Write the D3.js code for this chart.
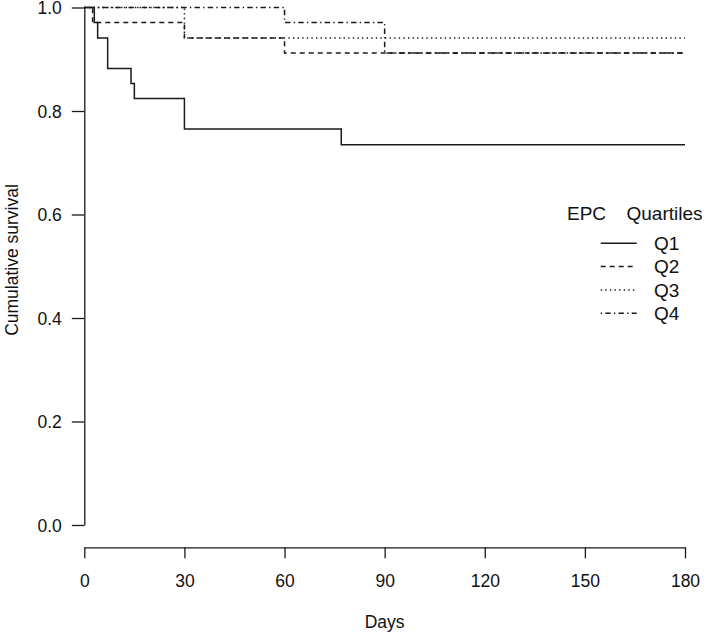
<!DOCTYPE html>
<html>
<head>
<meta charset="utf-8">
<script src="https://cdn.jsdelivr.net/npm/d3@7"></script>
<style>
  html, body { margin: 0; padding: 0; background: #fff; }
  svg { display: block; }
  text { font-family: "Liberation Sans", Arial, Helvetica, sans-serif; fill: #111; }
</style>
</head>
<body>
<svg id="chart" width="706" height="635"></svg>
<script>
// ---- data ----
const groups = ["Q1", "Q2", "Q3", "Q4"];
const q1Days = [0, 3, 4, 7, 14, 15, 30, 77, 180];
const q1Surv = [1.0, 0.971, 0.941, 0.882, 0.853, 0.824, 0.765, 0.735, 0.735];
const q2Days = [0, 2.5, 30, 60, 180];
const q2Surv = [1.0, 0.971, 0.941, 0.912, 0.912];
const q3Days = [0, 30, 180];
const q3Surv = [1.0, 0.941, 0.941];
const q4Days = [0, 60, 90, 180];
const q4Surv = [1.0, 0.971, 0.912, 0.912];
const xTicks = [0, 30, 60, 90, 120, 150, 180];
const yTicks = [0, 0.2, 0.4, 0.6, 0.8, 1.0];
const legendTitle = ["EPC", "Quartiles"];

const series = [
  {name: "Q1", days: q1Days, surv: q1Surv, dash: null},
  {name: "Q2", days: q2Days, surv: q2Surv, dash: "5,4"},
  {name: "Q3", days: q3Days, surv: q3Surv, dash: "1.4,3.2"},
  {name: "Q4", days: q4Days, surv: q4Surv, dash: "1.4,3.2,5.4,3.2"}
];

const svg = d3.select("#chart");
const x = d3.scaleLinear().domain([0, 180]).range([84.3, 685]);
const y = d3.scaleLinear().domain([0, 1]).range([525, 7.5]);
const FS = 17.5;
const LFS = 19;
const stroke = "#1a1a1a";

// y axis (drawn at day 0)
const yAxis = svg.append("g")
  .attr("transform", `translate(${x(0)},0)`)
  .call(d3.axisLeft(y).tickValues(yTicks).tickFormat(d3.format(".1f"))
    .tickSize(12.5).tickSizeOuter(0).tickPadding(10));

// x axis (offset below)
const xAxis = svg.append("g")
  .attr("transform", `translate(0,547.3)`)
  .call(d3.axisBottom(x).tickValues(xTicks).tickFormat(d3.format("d"))
    .tickSize(11).tickSizeOuter(0).tickPadding(16));

[yAxis, xAxis].forEach(g => {
  g.selectAll("path, line").attr("stroke", stroke).attr("stroke-width", 1.3);
  g.selectAll("text").attr("font-size", FS).attr("fill", "#111")
    .attr("font-family", '"Liberation Sans", Arial, sans-serif');
});
yAxis.selectAll("text").attr("dy", "0.36em");

// curves
const line = d3.line()
  .x(d => x(d[0]))
  .y(d => y(d[1]))
  .curve(d3.curveStepAfter);

series.forEach(s => {
  const pts = s.days.map((d, i) => [d, s.surv[i]]);
  svg.append("path")
    .attr("d", line(pts))
    .attr("fill", "none")
    .attr("stroke", stroke)
    .attr("stroke-width", 1.5)
    .attr("stroke-dasharray", s.dash);
});

// axis titles
svg.append("text")
  .attr("x", (x(0) + x(180)) / 2)
  .attr("y", 628)
  .attr("text-anchor", "middle")
  .attr("font-size", FS)
  .text("Days");

svg.append("text")
  .attr("transform", `translate(18,260) rotate(-90)`)
  .attr("text-anchor", "middle")
  .attr("font-size", FS)
  .text("Cumulative survival");

// legend
svg.append("text").attr("x", 567).attr("y", 219.5).attr("font-size", LFS).text(legendTitle[0]);
svg.append("text").attr("x", 626.5).attr("y", 219.5).attr("font-size", LFS).text(legendTitle[1]);

series.forEach((s, i) => {
  const ly = 243.3 + i * 23.3;
  svg.append("line")
    .attr("x1", 600.7).attr("x2", 636.7)
    .attr("y1", ly).attr("y2", ly)
    .attr("stroke", stroke).attr("stroke-width", 1.5)
    .attr("stroke-dasharray", s.dash);
  svg.append("text")
    .attr("x", 654).attr("y", ly + 6.8)
    .attr("font-size", LFS)
    .text(s.name);
});
</script>
</body>
</html>
